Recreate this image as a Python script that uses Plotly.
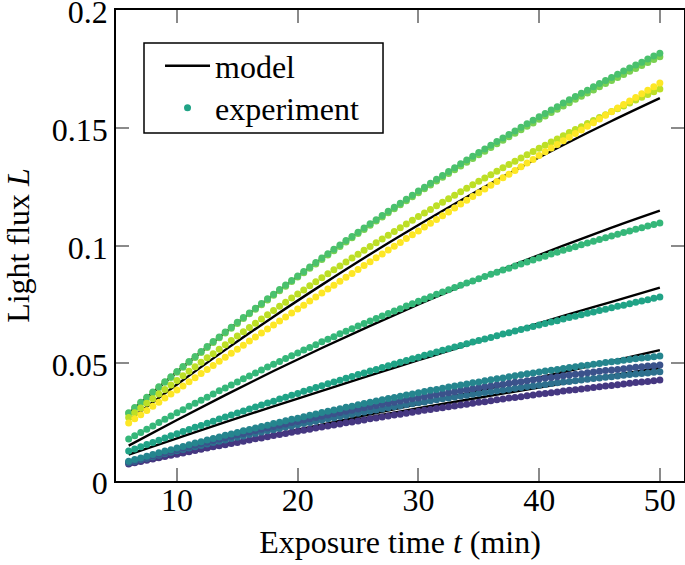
import plotly.graph_objects as go

# sample times (min)
t = [6.0, 6.5, 7.0, 7.5, 8.0, 8.5, 9.0, 9.5, 10.0, 10.5, 11.0, 11.5, 12.0, 12.5, 13.0, 13.5, 14.0, 14.5,
     15.0, 15.5, 16.0, 16.5, 17.0, 17.5, 18.0, 18.5, 19.0, 19.5, 20.0, 20.5, 21.0, 21.5, 22.0, 22.5, 23.0, 23.5,
     24.0, 24.5, 25.0, 25.5, 26.0, 26.5, 27.0, 27.5, 28.0, 28.5, 29.0, 29.5, 30.0, 30.5, 31.0, 31.5, 32.0, 32.5,
     33.0, 33.5, 34.0, 34.5, 35.0, 35.5, 36.0, 36.5, 37.0, 37.5, 38.0, 38.5, 39.0, 39.5, 40.0, 40.5, 41.0, 41.5,
     42.0, 42.5, 43.0, 43.5, 44.0, 44.5, 45.0, 45.5, 46.0, 46.5, 47.0, 47.5, 48.0, 48.5, 49.0, 49.5, 50.0]

# experiment light flux, in units of 1e-4
exp1 = [72, 77, 83, 88, 93, 99, 104, 109, 114, 119, 124, 130, 135, 140, 145, 150, 154, 159, 164, 169, 174, 179, 183, 188, 193, 197, 202, 207, 211, 216, 220, 225, 229, 234, 238, 242, 247, 251, 255, 259, 264, 268, 272, 276, 280, 284, 288, 292, 296, 300, 304, 308, 311, 315, 319, 323, 326, 330, 334, 337, 341, 345, 348, 352, 355, 358, 362, 365, 369, 372, 375, 378, 382, 385, 388, 391, 394, 397, 400, 403, 406, 409, 412, 415, 418, 421, 423, 426, 429]
exp2 = [78, 84, 91, 97, 103, 109, 116, 122, 128, 134, 140, 146, 151, 157, 163, 169, 174, 180, 186, 191, 197, 202, 208, 213, 218, 223, 229, 234, 239, 244, 249, 254, 259, 264, 269, 274, 278, 283, 288, 293, 297, 302, 306, 311, 315, 319, 324, 328, 332, 336, 341, 345, 349, 353, 357, 361, 364, 368, 372, 376, 379, 383, 387, 390, 394, 397, 401, 404, 407, 410, 414, 417, 420, 423, 426, 429, 432, 435, 438, 441, 443, 446, 449, 452, 454, 457, 459, 462, 464]
exp3 = [80, 87, 94, 100, 107, 114, 120, 127, 134, 140, 146, 153, 159, 165, 172, 178, 184, 190, 196, 202, 208, 214, 220, 225, 231, 237, 242, 248, 253, 259, 264, 270, 275, 280, 286, 291, 296, 301, 306, 311, 316, 321, 326, 330, 335, 340, 344, 349, 353, 358, 362, 367, 371, 375, 379, 384, 388, 392, 396, 400, 404, 408, 411, 415, 419, 422, 426, 430, 433, 437, 440, 443, 447, 450, 453, 456, 460, 463, 466, 469, 471, 474, 477, 480, 483, 485, 488, 490, 493]
exp4 = [84, 91, 98, 105, 113, 120, 127, 133, 140, 147, 154, 161, 167, 174, 181, 187, 194, 200, 206, 213, 219, 225, 231, 237, 244, 250, 256, 262, 267, 273, 279, 285, 291, 296, 302, 307, 313, 318, 324, 329, 334, 340, 345, 350, 355, 360, 365, 370, 375, 380, 385, 389, 394, 399, 403, 408, 412, 417, 421, 426, 430, 434, 438, 443, 447, 451, 455, 459, 463, 467, 470, 474, 478, 482, 485, 489, 492, 496, 499, 503, 506, 509, 513, 516, 519, 522, 525, 528, 531]
exp5 = [127, 136, 146, 155, 164, 173, 183, 192, 201, 210, 219, 228, 236, 245, 254, 263, 272, 280, 289, 297, 306, 314, 323, 331, 339, 348, 356, 364, 372, 381, 389, 397, 405, 413, 420, 428, 436, 444, 452, 459, 467, 474, 482, 490, 497, 504, 512, 519, 526, 534, 541, 548, 555, 562, 569, 576, 583, 590, 597, 603, 610, 617, 624, 630, 637, 643, 650, 656, 663, 669, 675, 681, 688, 694, 700, 706, 712, 718, 724, 730, 736, 742, 747, 753, 759, 764, 770, 776, 781]
exp6 = [178, 192, 206, 220, 234, 248, 262, 276, 290, 303, 317, 330, 343, 356, 370, 383, 395, 408, 421, 434, 446, 459, 471, 484, 496, 508, 520, 532, 544, 556, 567, 579, 591, 602, 613, 625, 636, 647, 658, 669, 680, 690, 701, 711, 722, 732, 743, 753, 763, 773, 783, 793, 803, 812, 822, 831, 841, 850, 859, 869, 878, 887, 896, 904, 913, 922, 930, 939, 947, 955, 964, 972, 980, 988, 995, 1003, 1011, 1018, 1026, 1033, 1041, 1048, 1055, 1062, 1069, 1076, 1083, 1089, 1096]
exp7 = [290, 312, 334, 356, 378, 400, 422, 443, 465, 486, 508, 529, 550, 571, 592, 612, 633, 653, 674, 694, 714, 734, 754, 774, 793, 813, 832, 852, 871, 890, 909, 928, 947, 965, 984, 1002, 1021, 1039, 1057, 1075, 1093, 1110, 1128, 1146, 1163, 1180, 1197, 1214, 1232, 1248, 1265, 1282, 1298, 1315, 1331, 1347, 1363, 1379, 1395, 1410, 1426, 1442, 1457, 1472, 1487, 1502, 1517, 1532, 1547, 1561, 1576, 1590, 1605, 1619, 1633, 1647, 1660, 1674, 1688, 1701, 1714, 1728, 1741, 1754, 1767, 1779, 1792, 1805, 1817]
exp8 = [287, 309, 331, 353, 375, 397, 419, 440, 462, 483, 504, 525, 546, 567, 588, 608, 629, 649, 669, 690, 710, 730, 749, 769, 789, 808, 827, 847, 866, 885, 904, 922, 941, 960, 978, 996, 1015, 1033, 1051, 1068, 1086, 1104, 1121, 1139, 1156, 1173, 1190, 1207, 1224, 1241, 1257, 1274, 1290, 1306, 1322, 1338, 1354, 1370, 1386, 1401, 1417, 1432, 1447, 1462, 1477, 1492, 1507, 1521, 1536, 1550, 1565, 1579, 1593, 1607, 1621, 1634, 1648, 1661, 1675, 1688, 1701, 1714, 1727, 1740, 1752, 1765, 1777, 1790, 1802]
exp9 = [270, 290, 310, 330, 349, 369, 389, 408, 427, 447, 466, 485, 504, 523, 541, 560, 579, 597, 616, 634, 652, 670, 688, 706, 724, 742, 759, 777, 794, 811, 829, 846, 863, 880, 897, 913, 930, 947, 963, 980, 996, 1012, 1028, 1044, 1060, 1076, 1092, 1107, 1123, 1138, 1153, 1169, 1184, 1199, 1214, 1229, 1243, 1258, 1273, 1287, 1301, 1316, 1330, 1344, 1358, 1372, 1386, 1399, 1413, 1426, 1440, 1453, 1466, 1480, 1493, 1505, 1518, 1531, 1544, 1556, 1569, 1581, 1593, 1606, 1618, 1630, 1642, 1653, 1665]
exp10 = [246, 264, 281, 299, 317, 334, 352, 369, 387, 404, 422, 439, 457, 474, 491, 509, 526, 543, 560, 577, 595, 612, 629, 646, 663, 680, 697, 714, 731, 747, 764, 781, 798, 815, 831, 848, 865, 881, 898, 915, 931, 948, 964, 981, 997, 1013, 1030, 1046, 1062, 1079, 1095, 1111, 1127, 1143, 1160, 1176, 1192, 1208, 1224, 1240, 1256, 1272, 1288, 1303, 1319, 1335, 1351, 1366, 1382, 1398, 1414, 1429, 1445, 1460, 1476, 1491, 1507, 1522, 1538, 1553, 1568, 1584, 1599, 1614, 1629, 1645, 1660, 1675, 1690]

exp_colors = ["#453781", "#2d708e", "#3b528b", "#25858e", "#20a386",
              "#35b779", "#4ac16d", "#7ad151", "#bddf26", "#fde725"]

# model curves, sampled every 4 min, in units of 1e-4
t_model = [6, 10, 14, 18, 22, 26, 30, 34, 38, 42, 46, 50]
model_a = [112, 181, 250, 317, 383, 449, 513, 577, 639, 701, 761, 821]
model_b = [150, 259, 365, 467, 565, 659, 750, 837, 920, 1000, 1076, 1148]
model_c = [288, 463, 631, 791, 944, 1090, 1228, 1360, 1484, 1600, 1710, 1812]
model_d = [258, 410, 557, 698, 833, 963, 1087, 1206, 1320, 1427, 1529, 1626]
model_e = [68, 110, 153, 196, 239, 283, 327, 372, 417, 463, 509, 556]
model_f = [70, 112, 153, 194, 233, 271, 309, 345, 380, 414, 448, 480]

x_ticks = [10, 20, 30, 40, 50]
y_ticks = [0, 0.05, 0.1, 0.15, 0.2]
y_tick_text = ["0", "0.05", "0.1", "0.15", "0.2"]

SCALE = 1e-4
FONT = "Liberation Serif"
FS = 32

fig = go.Figure()

models = [model_a, model_b, model_c, model_d, model_e, model_f]
for i, m in enumerate(models):
    fig.add_trace(go.Scatter(
        x=t_model, y=[v * SCALE for v in m], mode="lines",
        line=dict(color="black", width=2.4, shape="spline"),
        name="model", showlegend=(i == 0), legend="legend", hoverinfo="skip"))

exps = [exp1, exp2, exp3, exp4, exp5, exp6, exp8, exp7, exp9, exp10]
cols = [exp_colors[0], exp_colors[1], exp_colors[2], exp_colors[3], exp_colors[4],
        exp_colors[5], exp_colors[7], exp_colors[6], exp_colors[8], exp_colors[9]]
for i, (e, c) in enumerate(zip(exps, cols)):
    fig.add_trace(go.Scatter(
        x=t, y=[v * SCALE for v in e], mode="markers",
        marker=dict(color=c, size=7, line=dict(width=0)),
        name="experiment", showlegend=(i == 4), legend="legend2", hoverinfo="skip"))

axis_common = dict(
    showline=True, linecolor="black", linewidth=1.5, mirror="allticks",
    ticks="inside", ticklen=13, tickwidth=1.5, tickcolor="#8a8a8a",
    showgrid=False, zeroline=False, automargin=False, ticklabeloverflow="allow",
    tickfont=dict(family=FONT, size=FS, color="black"),
)

legend_common = dict(xanchor="left", yanchor="top", bgcolor="rgba(0,0,0,0)",
                     borderwidth=0, itemwidth=45, font=dict(family=FONT, size=FS))

fig.update_layout(
    width=685, height=565,
    margin=dict(l=116, r=1, t=10, b=84),
    paper_bgcolor="white", plot_bgcolor="white",
    font=dict(family=FONT, size=FS, color="black"),
    xaxis=dict(range=[4.95, 52.0], tickvals=x_ticks, ticklabelstandoff=-10,
               title=dict(text="Exposure time <i>t</i> (min)", font=dict(family=FONT, size=FS), standoff=13),
               **axis_common),
    yaxis=dict(range=[0, 0.20005], tickvals=y_ticks, ticktext=y_tick_text, ticklabelshift=2,
               title=dict(text="Light flux <i>L</i>", font=dict(family=FONT, size=FS), standoff=19),
               **axis_common),
    legend=dict(x=0.0775, y=0.9397, **legend_common),
    legend2=dict(x=0.0775, y=0.8505, **legend_common),
    shapes=[dict(type="rect", xref="paper", yref="paper",
                 x0=0.0493, x1=0.4701, y0=0.7389, y1=0.93,
                 line=dict(color="black", width=1.5), fillcolor="white", layer="below")],
)

fig.write_html("out.html", config={"displayModeBar": False},
               post_script="document.body.style.margin='0';")
